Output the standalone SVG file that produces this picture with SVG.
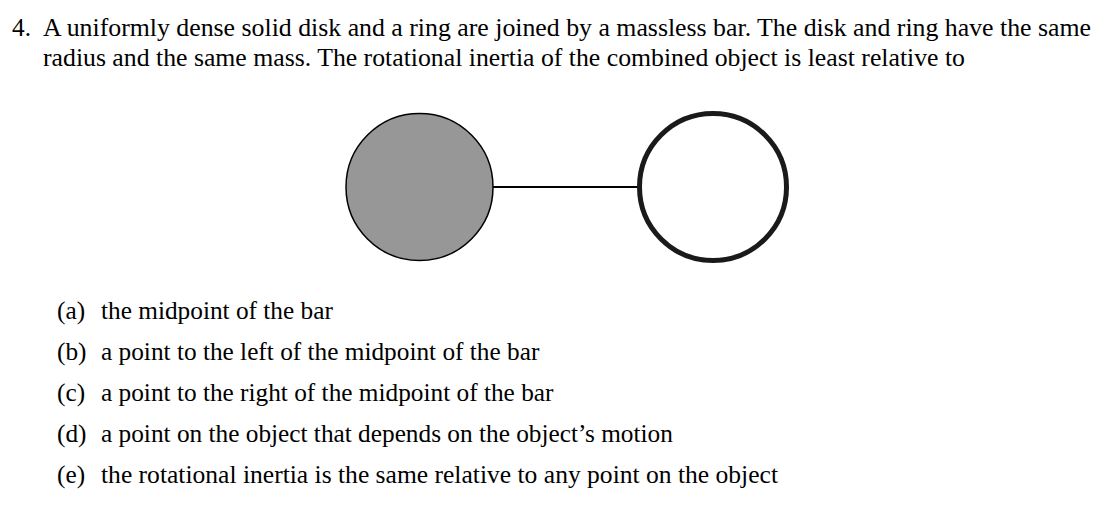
<svg xmlns="http://www.w3.org/2000/svg" width="1111" height="507" viewBox="0 0 1111 507">
<style>text{font-family:"Liberation Serif","DejaVu Serif",serif;font-size:25.3px;fill:#000}</style>
<rect width="1111" height="507" fill="#fff"/>
<text x="12" y="36">4.</text>
<text x="43" y="36" textLength="1048" lengthAdjust="spacingAndGlyphs">A uniformly dense solid disk and a ring are joined by a massless bar. The disk and ring have the same</text>
<text x="43" y="66" textLength="922" lengthAdjust="spacingAndGlyphs">radius and the same mass. The rotational inertia of the combined object is least relative to</text>
<g id="connectors"><line x1="493" y1="187" x2="638" y2="187" stroke="#000" stroke-width="2"/></g>
<g id="disk"><circle cx="419.5" cy="187" r="73.5" fill="#979797" stroke="#000" stroke-width="1.5"/></g>
<g id="ring"><circle cx="713" cy="187" r="73.5" fill="none" stroke="#1a1a1a" stroke-width="5"/></g>
<g>
<text x="57" y="319">(a)</text><text x="101" y="319">the midpoint of the bar</text>
<text x="57" y="360">(b)</text><text x="101" y="360">a point to the left of the midpoint of the bar</text>
<text x="57" y="401">(c)</text><text x="101" y="401">a point to the right of the midpoint of the bar</text>
<text x="57" y="442">(d)</text><text x="101" y="442">a point on the object that depends on the object’s motion</text>
<text x="57" y="483">(e)</text><text x="101" y="483" textLength="677" lengthAdjust="spacingAndGlyphs">the rotational inertia is the same relative to any point on the object</text>
</g>
</svg>
